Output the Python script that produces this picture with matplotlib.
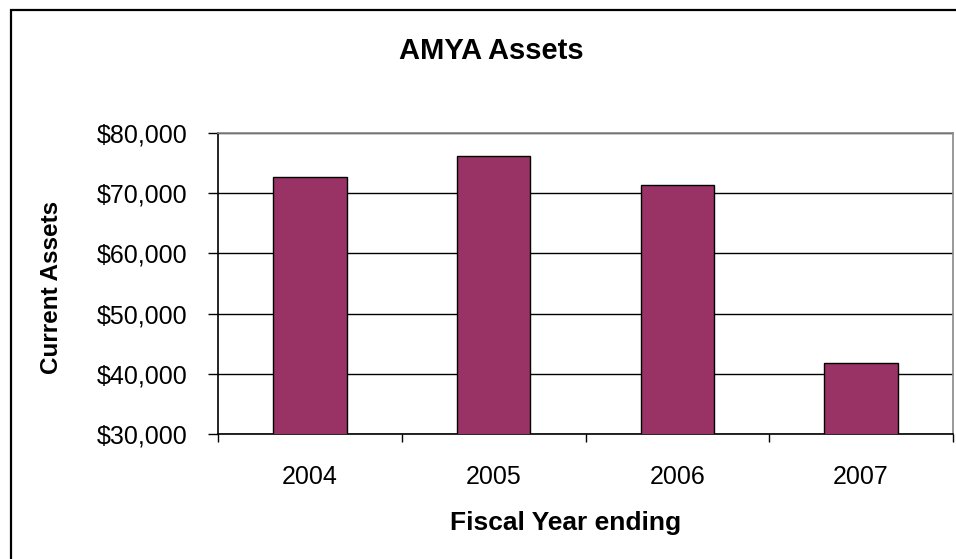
import matplotlib
matplotlib.use("Agg")
import matplotlib.pyplot as plt
from matplotlib.patches import Rectangle
from matplotlib.ticker import FuncFormatter, FixedLocator
import numpy as np

years = ["2004", "2005", "2006", "2007"]
assets = [72600, 76100, 71300, 41900]

plt.rcParams['font.family'] = ['Liberation Sans', 'DejaVu Sans']

fig = plt.figure(figsize=(9.56, 5.59), dpi=100)
W, H = 956, 559

# outer chart border (right and bottom edges fall outside the image)
fig.patches.append(Rectangle((11 / W, -0.1), 1.2, 1.1 - 10 / H, transform=fig.transFigure,
                             fill=False, edgecolor="black", linewidth=1.6, clip_on=False))

ax = fig.add_axes([218 / W, 1 - 434.3 / H, (953 - 218) / W, (434.3 - 132.7) / H])

x = np.arange(len(years))
ax.bar(x, assets, width=0.4, color="#993366", edgecolor="black", linewidth=1, zorder=3)

ax.set_xlim(-0.5, len(years) - 0.5)
ax.set_ylim(30000, 80000)
ax.set_yticks(np.arange(30000, 80001, 10000))
ax.yaxis.set_major_formatter(FuncFormatter(lambda v, p: "${:,.0f}".format(v)))
ax.yaxis.grid(True, color="black", linewidth=1, zorder=1)

ax.set_xticks(x)
ax.set_xticklabels(years, fontsize=18)
ax.xaxis.set_minor_locator(FixedLocator(np.arange(-0.5, len(years), 1)))
ax.tick_params(axis="x", which="major", length=0, pad=22)
ax.tick_params(axis="x", which="minor", length=6, width=1, direction="out")
ax.tick_params(axis="y", length=7, width=1, direction="out", labelsize=18, pad=15)

for s in ["top", "right"]:
    ax.spines[s].set_color("#888888")
    ax.spines[s].set_linewidth(1.2)
for s in ["left", "bottom"]:
    ax.spines[s].set_color("black")
    ax.spines[s].set_linewidth(1.2)

fig.text(491 / W, 1 - 51 / H, "AMYA Assets", ha="center", va="center",
         fontsize=21, fontweight="bold")
fig.text(566 / W, 1 - 523 / H, "Fiscal Year ending", ha="center", va="center",
         fontsize=19, fontweight="bold")
fig.text(52 / W, 1 - 287 / H, "Current Assets", ha="center", va="center",
         rotation=90, fontsize=17.5, fontweight="bold")

fig.savefig("out.png", dpi=100)
